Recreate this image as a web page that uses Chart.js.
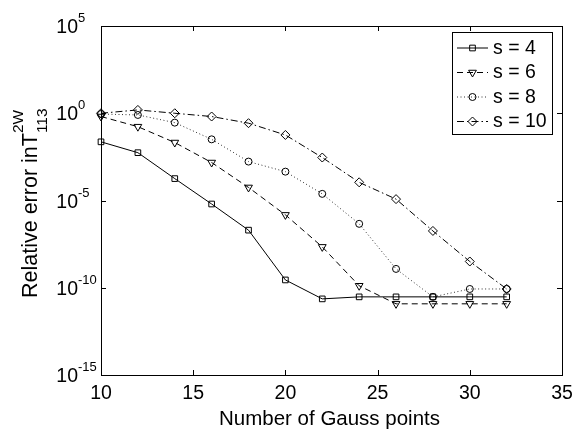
<!DOCTYPE html>
<html><head><meta charset="utf-8">
<script src="https://cdn.jsdelivr.net/npm/chart.js@4/dist/chart.umd.min.js"></script>
<style>html,body{margin:0;padding:0;background:#fff}#wrap{width:572px;height:429px}</style>
</head><body><div id="wrap"><canvas id="c" width="572" height="429"></canvas></div>
<script>
// ---- data ----
const gaussPoints = [10, 12, 14, 16, 18, 20, 22, 24, 26, 28, 30, 32];
const errS4  = [2.3e-2, 5.5e-3, 1.8e-4, 6.3e-6, 2.0e-7, 2.8e-10, 2.3e-11, 3.0e-11, 3.0e-11, 3.0e-11, 3.0e-11, 3.0e-11];
const errS6  = [0.65, 0.17, 2.1e-2, 1.5e-3, 5.6e-5, 1.5e-6, 2.2e-8, 1.3e-10, 1.2e-11, 1.2e-11, 1.2e-11, 1.2e-11];
const errS8  = [0.9, 0.8, 0.29, 3.2e-2, 1.7e-3, 4.5e-4, 2.4e-5, 4.6e-7, 1.2e-9, 3.0e-11, 8.5e-11, 8.5e-11];
const errS10 = [1.0, 1.55, 1.0, 0.65, 0.27, 5.7e-2, 2.9e-3, 1.1e-4, 1.2e-5, 1.8e-7, 3.2e-9, 8.5e-11];
const seriesLabels = ['s = 4', 's = 6', 's = 8', 's = 10'];
const xTickValues = [10, 15, 20, 25, 30, 35];
const yTickExponents = [5, 0, -5, -10, -15];
const xTitle = 'Number of Gauss points';
const yTitleMain = 'Relative error inT';
const yTitleSup = '2W';
const yTitleSub = '113';

const FONT = '"Liberation Sans", Arial, sans-serif';
const styles = [
  {dash: [], point: 'rect', radius: 4, rot: 0, color: '#000'},
  {dash: [6, 4], point: 'triangle', radius: 4.5, rot: 180, color: '#000'},
  {dash: [1, 2.5], point: 'circle', radius: 3.5, rot: 0, color: '#333'},
  {dash: [7, 3, 1.5, 3], point: 'rectRot', radius: 4.5, rot: 0, color: '#000'}
];
const seriesValues = [errS4, errS6, errS8, errS10];

const datasets = seriesValues.map((vals, i) => ({
  label: seriesLabels[i],
  data: gaussPoints.map((g, k) => ({x: g, y: vals[k]})),
  borderColor: styles[i].color,
  borderWidth: 1,
  borderDash: styles[i].dash,
  pointStyle: styles[i].point,
  pointRadius: styles[i].radius,
  pointRotation: styles[i].rot,
  pointBorderColor: '#000',
  pointBorderWidth: 1,
  pointBackgroundColor: 'rgba(0,0,0,0)',
  tension: 0,
  fill: false,
  clip: false
}));

function drawMarker(ctx, style, x, y) {
  ctx.save();
  ctx.setLineDash([]);
  ctx.strokeStyle = '#000';
  ctx.fillStyle = 'rgba(0,0,0,0)';
  ctx.lineWidth = 1;
  Chart.helpers.drawPoint(ctx, {pointStyle: style.point, radius: style.radius, rotation: style.rot, borderWidth: 1}, x, y);
  ctx.restore();
}

const framePlugin = {
  id: 'frame',
  afterDraw(chart) {
    const ctx = chart.ctx;
    const a = chart.chartArea;
    const xs = chart.scales.x, ys = chart.scales.y;
    ctx.save();
    ctx.strokeStyle = '#000';
    ctx.lineWidth = 1;
    ctx.setLineDash([]);
    ctx.strokeRect(Math.round(a.left) + 0.5, Math.round(a.top) + 0.5, Math.round(a.right - a.left), Math.round(a.bottom - a.top));
    const tl = 5;
    ctx.beginPath();
    xTickValues.forEach(v => {
      const px = Math.round(xs.getPixelForValue(v)) + 0.5;
      ctx.moveTo(px, a.bottom); ctx.lineTo(px, a.bottom - tl);
      ctx.moveTo(px, a.top); ctx.lineTo(px, a.top + tl);
    });
    yTickExponents.forEach(e => {
      const py = Math.round(ys.getPixelForValue(Math.pow(10, e))) + 0.5;
      ctx.moveTo(a.left, py); ctx.lineTo(a.left + tl, py);
      ctx.moveTo(a.right, py); ctx.lineTo(a.right - tl, py);
    });
    ctx.stroke();

    ctx.fillStyle = '#000';
    // x tick labels
    ctx.font = '19.5px ' + FONT;
    ctx.textAlign = 'center';
    ctx.textBaseline = 'alphabetic';
    xTickValues.forEach(v => {
      ctx.fillText(String(v), xs.getPixelForValue(v), a.bottom + 24);
    });
    // y tick labels
    yTickExponents.forEach(e => {
      const py = ys.getPixelForValue(Math.pow(10, e));
      ctx.font = '19.5px ' + FONT;
      ctx.textAlign = 'right';
      ctx.fillText('10', 78, py + 7);
      ctx.font = '13px ' + FONT;
      ctx.textAlign = 'left';
      ctx.fillText(String(e), 78, py - 4);
    });
    // x title
    ctx.font = '20.5px ' + FONT;
    ctx.textAlign = 'center';
    ctx.fillText(xTitle, (a.left + a.right) / 2 - 2, 425);
    // y title
    ctx.save();
    ctx.translate(36.5, 298);
    ctx.rotate(-Math.PI / 2);
    ctx.textAlign = 'left';
    ctx.font = '21.5px ' + FONT;
    ctx.fillText(yTitleMain, 0, 0);
    const w = ctx.measureText(yTitleMain).width;
    ctx.font = '15.5px ' + FONT;
    ctx.fillText(yTitleSup, w, -13.5);
    ctx.fillText(yTitleSub, w, 10);
    ctx.restore();

    // legend
    const bx = 452.5, by = 32.5, bw = 100, bh = 102;
    ctx.fillStyle = '#fff';
    ctx.fillRect(bx, by, bw, bh);
    ctx.strokeStyle = '#000';
    ctx.strokeRect(bx, by, bw, bh);
    const rows = [47.5, 72, 96.5, 121];
    rows.forEach((ry, i) => {
      const st = styles[i];
      ctx.save();
      ctx.strokeStyle = st.color;
      ctx.setLineDash(st.dash);
      ctx.beginPath();
      ctx.moveTo(457, ry + 0.5); ctx.lineTo(488, ry + 0.5);
      ctx.stroke();
      ctx.restore();
      drawMarker(ctx, st, 472.5, ry + 0.5);
      ctx.fillStyle = '#000';
      ctx.font = '19.5px ' + FONT;
      ctx.textAlign = 'left';
      ctx.textBaseline = 'middle';
      ctx.fillText(seriesLabels[i], 493, ry + 1);
      ctx.textBaseline = 'alphabetic';
    });
    ctx.restore();
  }
};

new Chart(document.getElementById('c'), {
  type: 'line',
  data: {datasets},
  options: {
    responsive: false,
    animation: false,
    devicePixelRatio: 1,
    layout: {padding: {left: 101, right: 10, top: 26, bottom: 54}},
    plugins: {legend: {display: false}, tooltip: {enabled: false}},
    scales: {
      x: {type: 'linear', min: 10, max: 35, display: false},
      y: {type: 'logarithmic', min: 1e-15, max: 1e5, display: false}
    }
  },
  plugins: [framePlugin]
});
</script>
</body></html>
